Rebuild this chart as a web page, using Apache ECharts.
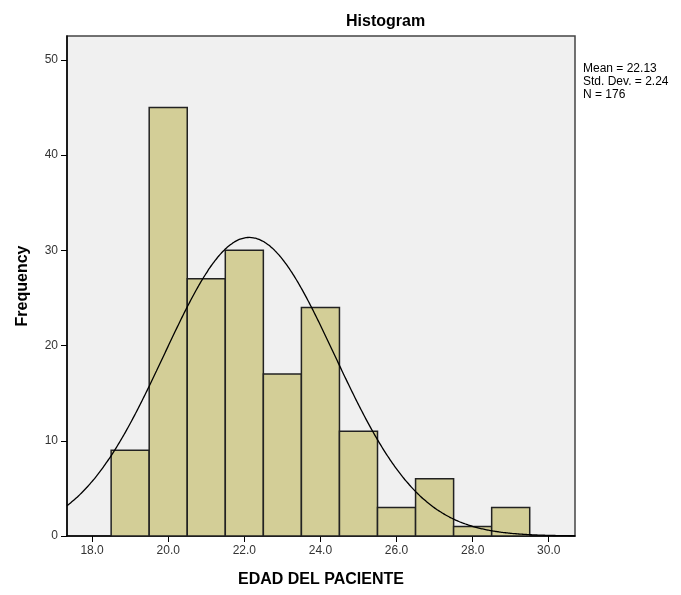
<!DOCTYPE html>
<html>
<head>
<meta charset="utf-8">
<script src="https://cdn.jsdelivr.net/npm/echarts@6/dist/echarts.min.js"></script>
<style>
  html, body { margin: 0; padding: 0; background: #fff; }
  #chart { width: 681px; height: 595px; }
</style>
</head>
<body>
<div id="chart"></div>
<script>
// histogram bins (lower edge, width 1) and counts
var binStart = [18.5, 19.5, 20.5, 21.5, 22.5, 23.5, 24.5, 25.5, 26.5, 27.5, 28.5];
var counts = [9, 45, 27, 30, 17, 24, 11, 3, 6, 1, 3];
var binWidth = 1;
var xTicks = [18, 20, 22, 24, 26, 28, 30];
var yTicks = [0, 10, 20, 30, 40, 50];
var mean = 22.13;
var sd = 2.24;
var n = 176;
var statLines = ['Mean = 22.13', 'Std. Dev. = 2.24', 'N = 176'];

var xMin = 17.34, xMax = 30.69, yMax = 52.5;

// fitted normal curve, scaled to counts
var curve = [];
for (var x = xMin; x <= xMax + 0.001; x += 0.05) {
  var z = (x - mean) / sd;
  curve.push([x, n * binWidth * Math.exp(-0.5 * z * z) / (sd * Math.sqrt(2 * Math.PI))]);
}

var bars = binStart.map(function (s, i) { return [s, s + binWidth, counts[i]]; });

var font = 'Liberation Sans, Arial, sans-serif';
var myChart = echarts.init(document.getElementById('chart'));

var option = {
  animation: false,
  title: {
    text: 'Histogram',
    left: 341,
    top: 9,
    textStyle: { fontFamily: font, fontSize: 16, fontWeight: 'bold', color: '#000' }
  },
  grid: {
    left: 67, right: 106, top: 36, bottom: 59,
    show: true,
    backgroundColor: '#F0F0F0',
    borderColor: '#444',
    borderWidth: 1.5
  },
  xAxis: {
    type: 'value',
    min: xMin, max: xMax,
    name: 'EDAD DEL PACIENTE',
    nameLocation: 'middle',
    nameGap: 36,
    nameTextStyle: { fontFamily: font, fontSize: 16, fontWeight: 'bold', color: '#000' },
    splitLine: { show: false },
    axisLine: { onZero: false, lineStyle: { color: '#000', width: 1.5 } },
    axisTick: { customValues: xTicks, length: 6, lineStyle: { color: '#000' } },
    axisLabel: {
      customValues: xTicks,
      margin: 9,
      fontFamily: font, fontSize: 12, color: '#333',
      formatter: function (v) { return v.toFixed(1); }
    }
  },
  yAxis: {
    type: 'value',
    min: 0, max: yMax,
    name: 'Frequency',
    nameLocation: 'middle',
    nameRotate: 90,
    nameGap: 36,
    nameTextStyle: { fontFamily: font, fontSize: 16, fontWeight: 'bold', color: '#000' },
    splitLine: { show: false },
    axisLine: { show: true, lineStyle: { color: '#000', width: 1.5 } },
    axisTick: { show: true, customValues: yTicks, length: 6, lineStyle: { color: '#000' } },
    axisLabel: {
      customValues: yTicks,
      margin: 9,
      fontFamily: font, fontSize: 12, color: '#333'
    }
  },
  graphic: [{
    type: 'text',
    left: 583,
    top: 62,
    style: {
      text: statLines.join('\n'),
      font: '12px ' + font,
      fill: '#000',
      lineHeight: 13
    }
  }],
  series: [{
    type: 'custom',
    data: bars,
    encode: { x: [0, 1], y: 2 },
    renderItem: function (params, api) {
      var p0 = api.coord([api.value(0), api.value(2)]);
      var p1 = api.coord([api.value(1), 0]);
      return {
        type: 'rect',
        shape: { x: p0[0], y: p0[1], width: p1[0] - p0[0], height: p1[1] - p0[1] },
        style: { fill: '#D3CE97', stroke: '#222', lineWidth: 1.5 }
      };
    },
    z: 2
  }, {
    type: 'line',
    data: curve,
    showSymbol: false,
    smooth: true,
    lineStyle: { color: '#000', width: 1.3 },
    z: 3
  }]
};
myChart.setOption(option);
</script>
</body>
</html>
